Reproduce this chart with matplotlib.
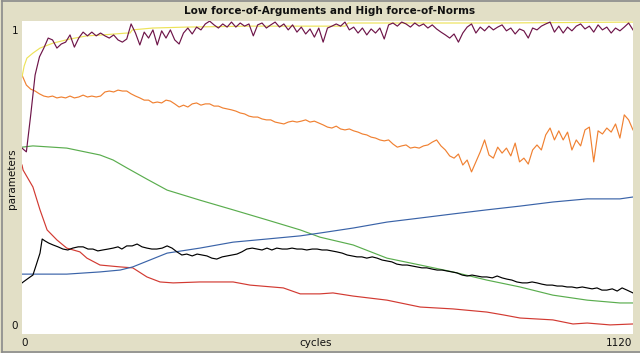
import numpy as np
import matplotlib
matplotlib.use("Agg")
import matplotlib.pyplot as plt
from matplotlib.lines import Line2D

title = "Low force-of-Arguments and High force-of-Norms"
x_label = "cycles"
y_label = "parameters"
x_min, x_max = 0, 1120
y_min, y_max = 0, 1

# --- smooth series: (cycle, value) ---
green_t = [0, 20, 82, 143, 167, 192, 229, 266, 326, 387, 449, 510, 546, 607, 669, 730, 790, 852, 913, 973, 1036, 1096, 1120]
green_v = [0.596, 0.600, 0.593, 0.571, 0.555, 0.530, 0.494, 0.459, 0.427, 0.396, 0.364, 0.332, 0.309, 0.284, 0.242, 0.220, 0.198, 0.172, 0.150, 0.124, 0.108, 0.099, 0.099]

red_t = [0, 2, 20, 33, 46, 64, 82, 106, 119, 143, 180, 203, 229, 253, 277, 326, 387, 418, 479, 510, 546, 570, 607, 669, 730, 790, 852, 882, 913, 973, 1010, 1036, 1078, 1120]
red_v = [0.539, 0.523, 0.469, 0.396, 0.332, 0.300, 0.274, 0.262, 0.242, 0.220, 0.214, 0.211, 0.182, 0.166, 0.163, 0.166, 0.166, 0.156, 0.147, 0.128, 0.128, 0.131, 0.121, 0.108, 0.086, 0.080, 0.070, 0.061, 0.051, 0.045, 0.032, 0.035, 0.029, 0.032]

blue_t = [0, 82, 143, 180, 203, 266, 326, 387, 449, 510, 546, 607, 669, 730, 790, 852, 913, 973, 1036, 1096, 1120]
blue_v = [0.191, 0.191, 0.198, 0.204, 0.214, 0.258, 0.274, 0.293, 0.303, 0.313, 0.322, 0.338, 0.357, 0.370, 0.383, 0.396, 0.408, 0.421, 0.431, 0.431, 0.437]

black_t = [0, 7, 15, 20, 26, 33, 37, 42, 49, 57, 66, 75, 84, 93, 103, 112, 121, 130, 139, 148,
           158, 167, 176, 183, 192, 202, 211, 220, 229, 238, 247, 257, 266, 275, 284, 293, 302, 312, 321, 330,
           339, 348, 357, 367, 376, 385, 394, 403, 412, 422, 431, 440, 449, 458, 467, 477, 486, 495, 504, 513,
           522, 532, 541, 550, 559, 568, 577, 587, 596, 605, 614, 623, 632, 642, 651, 660, 669, 678, 687, 697,
           706, 715, 724, 733, 742, 752, 761, 770, 779, 788, 797, 807, 816, 825, 834, 843, 852, 862, 871, 880,
           889, 898, 907, 917, 926, 935, 944, 953, 962, 972, 981, 990, 999, 1008, 1017, 1027, 1036, 1045, 1054, 1063,
           1072, 1082, 1091, 1100, 1109, 1120]
black_v = [0.163, 0.172, 0.182, 0.188, 0.220, 0.258, 0.303, 0.297, 0.290, 0.284, 0.278, 0.271, 0.268, 0.274, 0.278, 0.278, 0.271, 0.271, 0.265, 0.268,
           0.271, 0.274, 0.278, 0.271, 0.281, 0.281, 0.287, 0.278, 0.274, 0.271, 0.271, 0.274, 0.281, 0.274, 0.262, 0.252, 0.255, 0.249, 0.255, 0.252,
           0.249, 0.242, 0.239, 0.246, 0.249, 0.252, 0.255, 0.262, 0.271, 0.274, 0.271, 0.268, 0.274, 0.268, 0.274, 0.271, 0.271, 0.274, 0.271, 0.271,
           0.268, 0.271, 0.271, 0.268, 0.268, 0.265, 0.262, 0.258, 0.252, 0.249, 0.246, 0.246, 0.242, 0.246, 0.242, 0.236, 0.233, 0.230, 0.223, 0.220,
           0.220, 0.217, 0.214, 0.211, 0.211, 0.207, 0.204, 0.204, 0.201, 0.198, 0.195, 0.188, 0.185, 0.188, 0.185, 0.182, 0.182, 0.179, 0.185, 0.179,
           0.175, 0.172, 0.166, 0.163, 0.163, 0.166, 0.163, 0.159, 0.156, 0.156, 0.153, 0.153, 0.150, 0.150, 0.147, 0.150, 0.147, 0.144, 0.147, 0.140,
           0.140, 0.144, 0.137, 0.147, 0.140, 0.131]

yellow_t = [0, 4, 9, 20, 33, 57, 88, 119, 148, 192, 198, 202, 240, 302, 418, 592, 598, 876, 1120]
yellow_v = [0.820, 0.855, 0.880, 0.896, 0.912, 0.928, 0.941, 0.951, 0.954, 0.960, 0.960, 0.970, 0.976, 0.979, 0.982, 0.982, 0.992, 0.992, 0.995]

# --- noisy series sampled every 8 cycles ---
noisy_t = list(range(0, 1121, 8))

orange_v = [0.826, 0.794, 0.781, 0.775, 0.766, 0.759, 0.756, 0.759, 0.753, 0.756,
            0.753, 0.759, 0.753, 0.756, 0.762, 0.756, 0.759, 0.756, 0.759, 0.772,
            0.775, 0.772, 0.778, 0.775, 0.775, 0.766, 0.759, 0.753, 0.746, 0.746,
            0.737, 0.740, 0.737, 0.746, 0.743, 0.734, 0.724, 0.730, 0.724, 0.734,
            0.737, 0.730, 0.734, 0.734, 0.727, 0.727, 0.721, 0.718, 0.715, 0.711,
            0.705, 0.702, 0.695, 0.692, 0.692, 0.686, 0.683, 0.683, 0.676, 0.673,
            0.670, 0.676, 0.679, 0.676, 0.679, 0.683, 0.676, 0.679, 0.673, 0.667,
            0.660, 0.657, 0.663, 0.654, 0.651, 0.654, 0.648, 0.644, 0.638, 0.635,
            0.628, 0.625, 0.619, 0.616, 0.619, 0.606, 0.596, 0.600, 0.603, 0.593,
            0.596, 0.593, 0.600, 0.603, 0.612, 0.619, 0.600, 0.587, 0.568, 0.561,
            0.574, 0.539, 0.555, 0.517, 0.549, 0.581, 0.619, 0.571, 0.561, 0.596,
            0.577, 0.593, 0.568, 0.609, 0.549, 0.561, 0.542, 0.587, 0.603, 0.587,
            0.635, 0.657, 0.619, 0.648, 0.619, 0.644, 0.587, 0.619, 0.600, 0.651,
            0.660, 0.549, 0.648, 0.638, 0.657, 0.644, 0.670, 0.625, 0.699, 0.683,
            0.651]

purple_v = [0.593, 0.581, 0.699, 0.826, 0.884, 0.912, 0.944, 0.938, 0.912, 0.925,
            0.931, 0.954, 0.915, 0.944, 0.963, 0.951, 0.963, 0.951, 0.960, 0.951,
            0.944, 0.954, 0.938, 0.931, 0.941, 0.989, 0.960, 0.922, 0.963, 0.944,
            0.970, 0.922, 0.967, 0.944, 0.970, 0.938, 0.925, 0.960, 0.976, 0.957,
            0.979, 0.970, 0.989, 0.998, 0.986, 0.976, 0.989, 0.979, 0.995, 0.979,
            0.992, 0.982, 0.989, 0.951, 0.986, 0.992, 0.976, 0.986, 0.995, 0.979,
            0.989, 0.970, 0.986, 0.963, 0.979, 0.957, 0.973, 0.947, 0.976, 0.931,
            0.976, 0.982, 0.989, 0.982, 0.995, 0.970, 0.979, 0.960, 0.976, 0.954,
            0.973, 0.960, 0.976, 0.941, 0.986, 0.992, 0.982, 0.995, 0.989, 0.979,
            0.992, 0.982, 0.989, 0.976, 0.986, 0.973, 0.963, 0.954, 0.944, 0.957,
            0.931, 0.960, 0.979, 0.989, 0.960, 0.979, 0.967, 0.982, 0.970, 0.979,
            0.986, 0.967, 0.976, 0.957, 0.973, 0.967, 0.944, 0.976, 0.970, 0.982,
            0.989, 0.995, 0.963, 0.982, 0.960, 0.979, 0.967, 0.982, 0.989, 0.973,
            0.982, 0.963, 0.986, 0.970, 0.979, 0.960, 0.976, 0.967, 0.979, 0.992,
            0.970]

W, H = 640, 353
fig = plt.figure(figsize=(W / 100, H / 100), dpi=100)
bg = "#e2dfc6"
fig.patch.set_facecolor(bg)

L, R, T, B = 22, 633, 20.5, 334
ax = fig.add_axes([L / W, (H - B) / H, (R - L) / W, (B - T) / H])
ax.set_facecolor("white")
ax.set_xlim(x_min, x_max)
ax.set_ylim(y_min, y_max)
for s in ax.spines.values():
    s.set_visible(False)
ax.set_xticks([])
ax.set_yticks([])

lw = 0.85
ax.plot(green_t, green_v, color="#5aad4e", lw=lw)
ax.plot(red_t, red_v, color="#d23a32", lw=lw)
ax.plot(blue_t, blue_v, color="#3a63a8", lw=lw)
ax.plot(black_t, black_v, color="#000000", lw=lw)
ax.plot(noisy_t, orange_v, color="#f08132", lw=lw)
ax.plot(yellow_t, yellow_v, color="#ede35a", lw=lw)
ax.plot(noisy_t, purple_v, color="#6e1549", lw=lw)

def px(x, y):
    return x / W, 1 - y / H

fs = 7.5
fig.text(*px(330, 11), title, ha="center", va="center", fontsize=fs, fontweight="bold", color="#111111")
fig.text(*px(15, 31.5), "1", ha="center", va="center", fontsize=fs, color="#111111")
fig.text(*px(15, 326), "0", ha="center", va="center", fontsize=fs, color="#111111")
fig.text(*px(25, 343), "0", ha="center", va="center", fontsize=fs, color="#111111")
fig.text(*px(316, 343), x_label, ha="center", va="center", fontsize=fs, color="#111111")
fig.text(*px(619, 343), "1120", ha="center", va="center", fontsize=fs, color="#111111")
fig.text(*px(12.5, 179), y_label, ha="center", va="center", rotation=90, fontsize=fs, color="#111111")

# outer border lines
fig.add_artist(Line2D([2 / W, 2 / W], [1 - 1 / H, 1 - 351.5 / H], transform=fig.transFigure, color="#8a8a8a", lw=1.2))
fig.add_artist(Line2D([2 / W, 1], [1 - 1 / H, 1 - 1 / H], transform=fig.transFigure, color="#8a8a8a", lw=1.2))
fig.add_artist(Line2D([2 / W, 1], [1 - 351.5 / H, 1 - 351.5 / H], transform=fig.transFigure, color="#8a8a8a", lw=1.2))

fig.savefig("out.png", dpi=100, facecolor=bg)
